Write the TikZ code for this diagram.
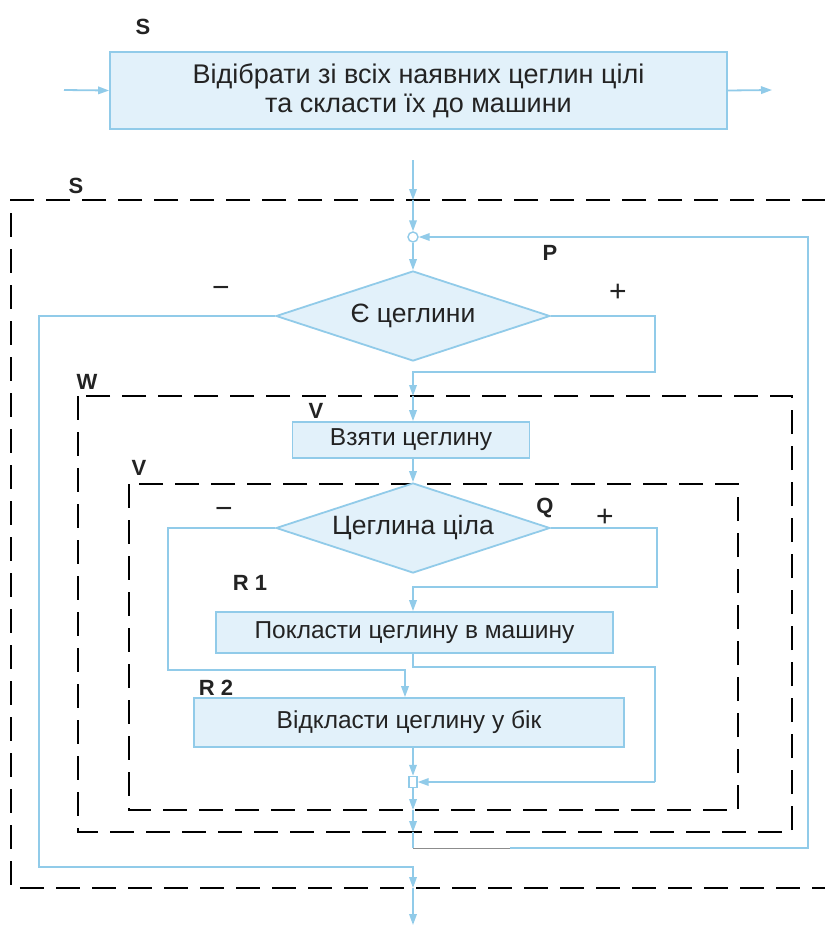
\documentclass[tikz,border=0pt]{standalone}
\usepackage{fontspec}
\setmainfont{Liberation Sans}
\usetikzlibrary{arrows.meta,shapes.geometric}
\definecolor{lb}{RGB}{145,203,233}
\definecolor{boxfill}{RGB}{226,241,250}
\definecolor{txt}{RGB}{35,35,35}
\tikzset{
  flow/.style={draw=lb, line width=1.8pt},
  arr/.style={flow, -{Triangle[length=11pt,width=7.5pt]}},
  procbox/.style={draw=lb, fill=boxfill, line width=1.8pt, inner sep=0pt, text=txt,
                  font=\fontsize{24.5}{30}\selectfont, align=center},
  decbox/.style={diamond, aspect=3, draw=lb, fill=boxfill, line width=1.8pt, inner sep=0pt,
                 minimum width=274pt, minimum height=90pt, text=txt, font=\fontsize{26.5}{30}\selectfont},
  bound/.style={draw=black, line width=2.6pt, dash pattern=on 24pt off 12pt},
  lbl/.style={font=\bfseries\fontsize{22}{22}\selectfont, text=txt, inner sep=0pt},
  sign/.style={font=\fontsize{30}{30}\selectfont, text=txt, inner sep=0pt},
  junc/.style={circle, draw=lb, fill=white, line width=1.4pt, inner sep=0pt, minimum size=10pt},
  juncsq/.style={rectangle, draw=lb, fill=white, line width=1.4pt, inner sep=0pt, minimum width=8pt, minimum height=11pt},
  faint/.style={draw=black!45, line width=1pt}
}
\begin{document}
\begin{tikzpicture}[x=1pt,y=-1pt]
\useasboundingbox[fill=white] (0,0) rectangle (825,927);

% dashed boundaries
\draw[bound] (826,200) -- (11,200) -- (11,888) -- (826,888);
\draw[bound] (78,396) rectangle (792,832);
\draw[bound] (129,484) rectangle (738,810);

% top block
\node[procbox, minimum width=617pt, minimum height=77pt, font=\fontsize{27}{29}\selectfont] (top) at (418.5,90.5)
  {Відібрати зі всіх наявних цеглин цілі\\та скласти їх до машини};
\coordinate (tin) at (64,90);
\coordinate (tout) at (772,90);
\draw[arr] (tin) -- (top.west);
\draw[arr] (top.east) -- (tout);

% main loop
\coordinate (a0) at (413,160);
\coordinate (sTop) at (413,200);
\node[junc] (j1) at (413,237) {};
\node[decbox] (d1) at (413,316) {Є цеглини};
\draw[arr] (a0) -- (sTop);
\draw[arr] (sTop) -- (j1);
\draw[arr] (j1) -- (d1.north);

% minus branch of d1
\coordinate (m1a) at (39,867);
\coordinate (m1b) at (413,867);
\coordinate (sBot) at (413,888);
\coordinate (fin) at (413,925);
\draw[arr] (d1.west) -| (m1a) -- (m1b) -- (sBot);
\draw[arr] (sBot) -- (fin);

% plus branch of d1
\coordinate (p1a) at (655,372);
\coordinate (p1b) at (413,372);
\coordinate (wTop) at (413,396);
\draw[arr] (d1.east) -| (p1a) -- (p1b) -- (wTop);

\node[procbox, minimum width=237pt, minimum height=36pt] (b1) at (411,440) {Взяти цеглину};
\draw[arr] (wTop) -- (wTop |- b1.north);

\node[decbox] (d2) at (413,528) {Цеглина ціла};
\draw[arr] (wTop |- b1.south) -- (d2.north);

\node[procbox, minimum width=397pt, minimum height=41pt] (r1) at (414.5,632.5) {Покласти цеглину в машину};
\node[procbox, minimum width=430pt, minimum height=49pt] (r2) at (409,722.5) {Відкласти цеглину у бік};

% plus branch of d2
\coordinate (q1) at (657,587);
\coordinate (q2) at (413,587);
\draw[arr] (d2.east) -| (q1) -- (q2) -- (q2 |- r1.north);

% minus branch of d2
\coordinate (m2a) at (168,670);
\coordinate (m2b) at (405,670);
\draw[arr] (d2.west) -| (m2a) -- (m2b) -- (m2b |- r2.north);

% join
\node[juncsq] (j2) at (413,782) {};
\coordinate (r1a) at (413,667);
\coordinate (r1b) at (655,667);
\coordinate (r1c) at (655,782);
\draw[flow] (r1.south -| r1a) -- (r1a) -- (r1b) -- (r1c);
\draw[arr] (r1c) -- (j2.east);
\draw[arr] (j2 |- r2.south) -- (j2.north);

\coordinate (vBot) at (413,810);
\coordinate (wBot) at (413,832);
\draw[arr] (j2.south) -- (vBot);
\draw[arr] (vBot) -- (wBot);

\coordinate (l1) at (413,848);
\coordinate (l1b) at (510,848);
\coordinate (l2) at (808,848);
\coordinate (l3) at (808,237);
\draw[flow] (wBot) -- (l1);
\draw[faint] (l1) -- (l1b);
\draw[arr] (l1b) -- (l2) -- (l3) -- (j1.east);

% labels
\node[lbl] (lS1) at (143,27) {S};
\node[lbl] (lS2) at (76,186) {S};
\node[lbl] (lP) at (550,253) {P};
\node[sign] (mn1) at (221,292) {−};
\node[sign] (pl1) at (618,293) {+};
\node[lbl] (lW) at (87,382) {W};
\node[lbl] (lV1) at (316,411) {V};
\node[lbl] (lV2) at (139,468) {V};
\node[sign] (mn2) at (224,513) {−};
\node[lbl] (lQ) at (545,508) {Q};
\node[sign] (pl2) at (605,518) {+};
\node[lbl] (lR1) at (250,583) {R 1};
\node[lbl] (lR2) at (216,688) {R 2};
\end{tikzpicture}
\end{document}
